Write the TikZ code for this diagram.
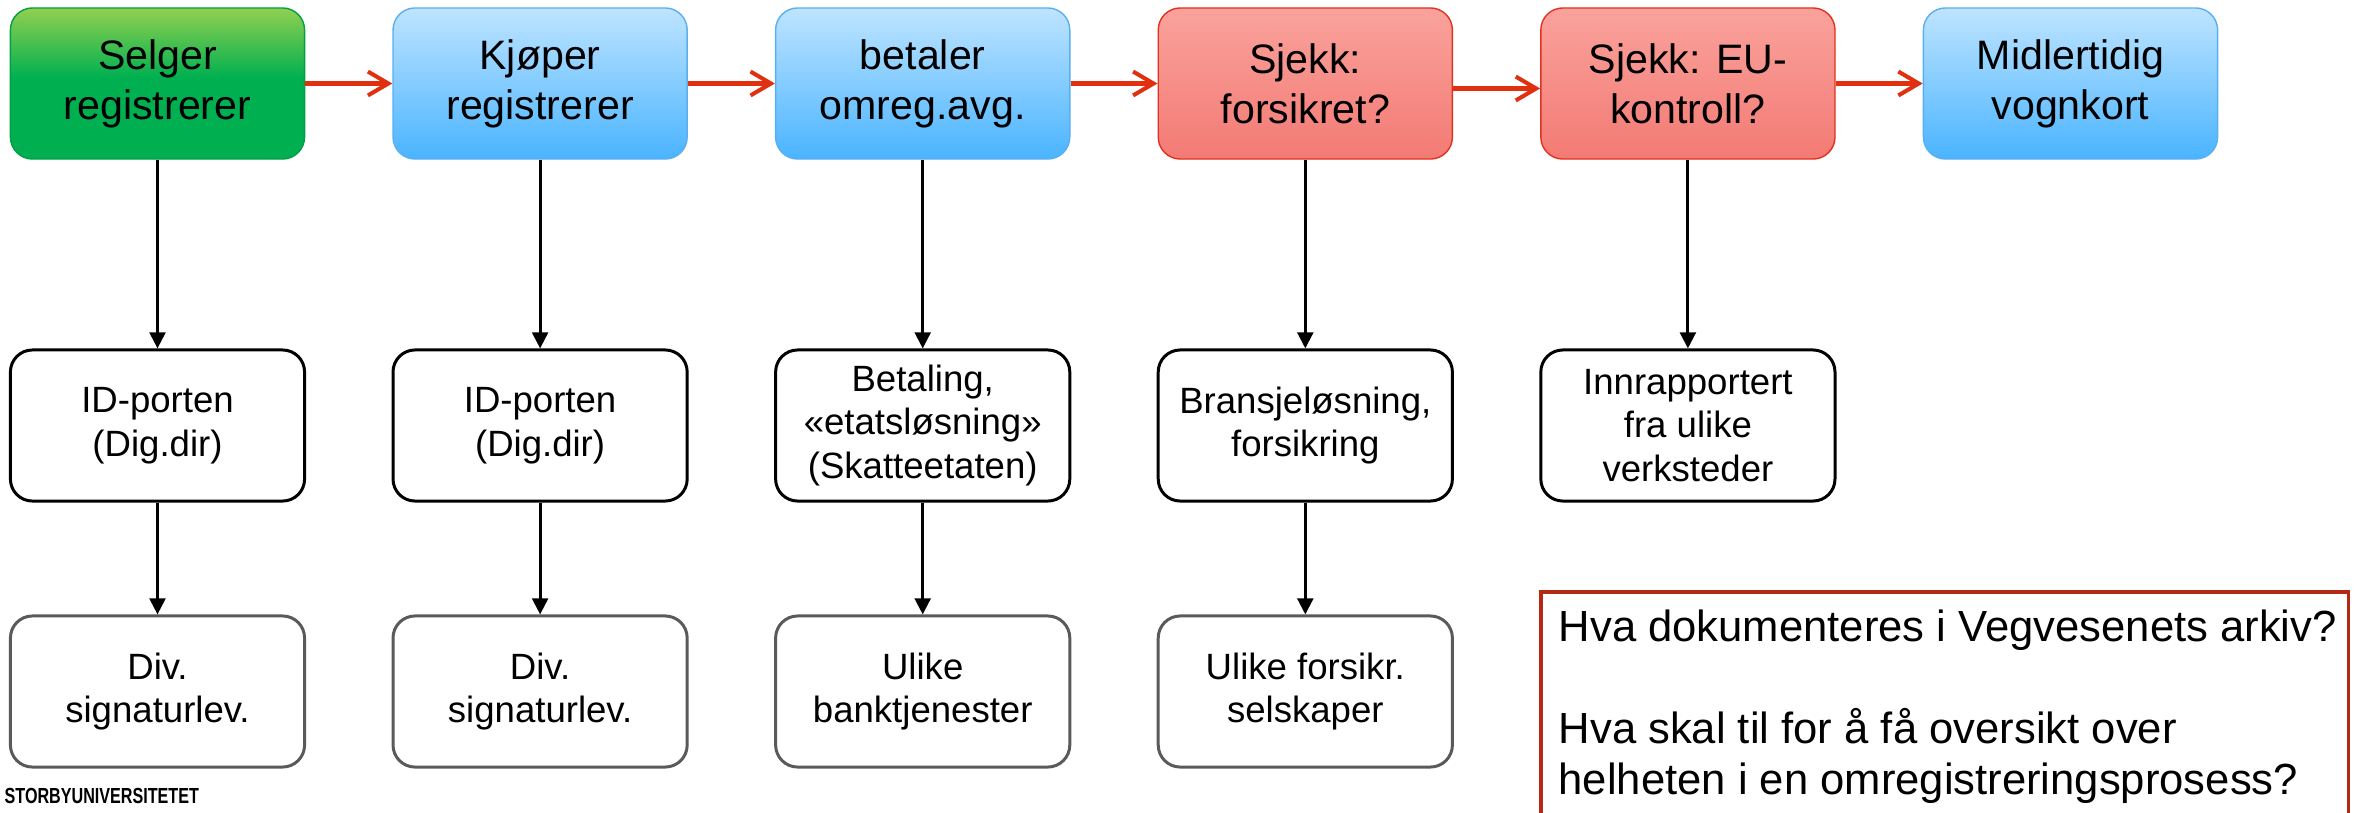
\documentclass[tikz,border=0pt]{standalone}
\usepackage{fontspec}
\usepackage{graphicx}
\setmainfont{Liberation Sans}
\usetikzlibrary{arrows.meta}
\definecolor{grnTop}{RGB}{146,208,80}
\definecolor{grnBot}{RGB}{0,176,80}
\definecolor{grnBorder}{RGB}{0,160,70}
\definecolor{bluTop}{RGB}{190,228,255}
\definecolor{bluBot}{RGB}{74,180,255}
\definecolor{bluBorder}{RGB}{90,175,240}
\definecolor{redTop}{RGB}{250,162,156}
\definecolor{redBot}{RGB}{243,122,116}
\definecolor{redBorder}{RGB}{225,50,30}
\definecolor{flowred}{RGB}{224,48,16}
\definecolor{qred}{RGB}{180,40,20}
\definecolor{provgray}{RGB}{90,90,90}
\pgfdeclareverticalshading{greensh}{100bp}{color(0bp)=(grnBot); color(25bp)=(grnBot); color(52bp)=(grnBot); color(75bp)=(grnTop); color(100bp)=(grnTop)}
\tikzset{
  proc/.style={rounded corners=0.22cm, minimum width=2.94cm, minimum height=1.51cm,
    align=center, inner sep=0pt, line width=0.4pt,
    font=\fontsize{11.7}{14.2}\selectfont},
  greenbox/.style={proc, draw=grnBorder, shading=greensh},
  bluebox/.style={proc, draw=bluBorder, top color=bluTop, bottom color=bluBot},
  redbox/.style={proc, draw=redBorder, top color=redTop, bottom color=redBot},
  srcbox/.style={rounded corners=0.22cm, minimum width=2.94cm, minimum height=1.51cm,
    align=center, inner sep=0pt, draw=black, line width=0.85pt, fill=white,
    font=\fontsize{10.4}{12.4}\selectfont},
  provbox/.style={srcbox, draw=provgray},
  flow/.style={draw=flowred, line width=1.15pt, -{Straight Barb[length=5.8pt,width=6.8pt]}},
  dep/.style={draw=black, line width=0.85pt, -{Triangle[length=4.6pt,width=4.5pt]}},
  qframe/.style={draw=qred, line width=1.1pt, minimum width=8.07cm, minimum height=2.8cm, inner sep=0pt},
  qtext/.style={align=left, inner sep=0pt, font=\fontsize{12.4}{14.5}\selectfont},
}
\begin{document}
\begin{tikzpicture}[x=0.01cm,y=-0.01cm]
\useasboundingbox (0,0) rectangle (2358,812);
% top row
\node[greenbox] (a1) at (157.5,83.5) {Selger\\registrerer};
\node[bluebox]  (a2) at (540.1,83.5) {Kjøper\\registrerer};
\node[bluebox]  (a3) at (922.7,83.5) {betaler\\omreg.avg.};
\node[redbox]   (a4) at (1305.3,83.5) {Sjekk:\\forsikret?};
\node[redbox]   (a5) at (1687.9,83.5) {Sjekk: EU-\\kontroll?};
\node[bluebox]  (a6) at (2070.5,83.5) {Midlertidig\\vognkort};
% middle row
\node[srcbox] (b1) at (157.5,425.5) {ID-porten\\(Dig.dir)};
\node[srcbox] (b2) at (540.1,425.5) {ID-porten\\(Dig.dir)};
\node[srcbox] (b3) at (922.7,425.5) {Betaling,\\«etatsløsning»\\(Skatteetaten)};
\node[srcbox] (b4) at (1305.3,425.5) {Bransjeløsning,\\forsikring};
\node[srcbox] (b5) at (1687.9,425.5) {Innrapportert\\fra ulike\\verksteder};
% bottom row
\node[provbox] (c1) at (157.5,691.5) {Div.\\signaturlev.};
\node[provbox] (c2) at (540.1,691.5) {Div.\\signaturlev.};
\node[provbox] (c3) at (922.7,691.5) {Ulike\\banktjenester};
\node[provbox] (c4) at (1305.3,691.5) {Ulike forsikr.\\selskaper};
% flow arrows
\draw[flow] (a1) -- (a2);
\draw[flow] (a2) -- (a3);
\draw[flow] (a3) -- (a4);
\draw[flow] ([yshift=-0.05cm]a4.east) -- ([yshift=-0.05cm]a5.west);
\draw[flow] (a5) -- (a6);
% dependency arrows
\foreach \i in {1,...,5} { \draw[dep] (a\i) -- (b\i); }
\foreach \i in {1,...,4} { \draw[dep] (b\i) -- (c\i); }
% question box
\node[qframe, anchor=north west] (q) at (1539,590) {};
\node[qtext, anchor=north west] (qt) at (1558,609) {Hva dokumenteres i Vegvesenets arkiv?\\[14.5pt]Hva skal til for å få oversikt over\\helheten i en omregistreringsprosess?};
% logo
\node[anchor=base west, inner sep=0pt, font=\fontsize{6.2}{7}\selectfont\bfseries] (logo) at (4,803) {\scalebox{0.74}[1]{STORBYUNIVERSITETET}};
\end{tikzpicture}
\end{document}
